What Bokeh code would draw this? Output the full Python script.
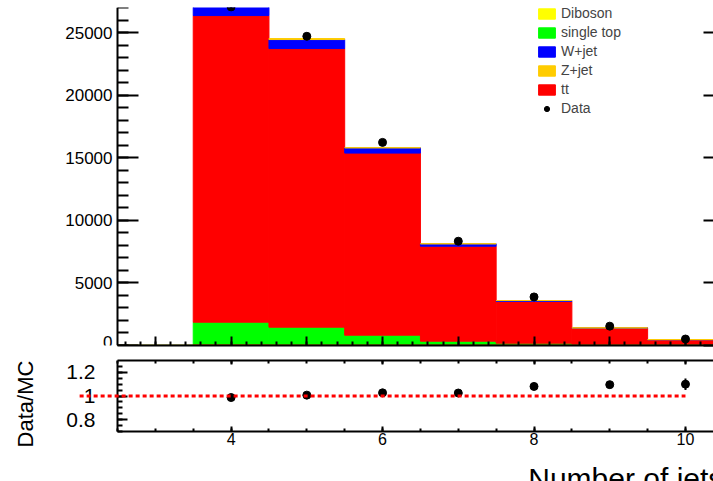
import math

from bokeh.embed import file_html
from bokeh.layouts import column
from bokeh.models import (Arrow, ColumnDataSource, Label, Legend, LegendItem,
                          LinearAxis, Range1d, SingleIntervalTicker)
from bokeh.plotting import figure
from bokeh.resources import INLINE

# Jet multiplicity bins (bin centres) and the expected yields per process
n_jets = [3, 4, 5, 6, 7, 8, 9, 10]
diboson = [0, 30, 25, 20, 15, 10, 6, 3]
single_top = [0, 1830, 1437, 803, 328, 174, 74, 37]
ttbar = [0, 24497, 22258, 14547, 7589, 3330, 1320, 420]
w_jets = [0, 990, 720, 422, 191, 74, 8, 8]
z_jets = [0, 60, 80, 8, 4, 2, 2, 2]

# Observed events
data = [0, 27050, 24700, 16225, 8331, 3880, 1545, 517]

FONT = "Liberation Sans"
X_LO, X_HI, X_END = 2.5, 10.37, 10.5
R_LO, R_HI = 0.7, 1.3

# Both pads span the full width; the axes are pinned at x = X_LO so the
# titles and the unity line can sit to the left of them.
W, PAD_L = 713, 117
RAT_H, RAT_BELOW = 71, 50
PX_PER_UNIT = (W - PAD_L) / (X_HI - X_LO)
PX_PER_RATIO = RAT_H / (R_HI - R_LO)
VIEW_LO = X_LO - PAD_L / PX_PER_UNIT
x_view = Range1d(VIEW_LO, X_HI)

left = [n - 0.5 for n in n_jets]
right = [n + 0.5 for n in n_jets]


def style_axis(ax, tick_in, minor_in, label_size=None, standoff=0):
    ax.major_tick_in = tick_in
    ax.major_tick_out = 0
    ax.minor_tick_in = minor_in
    ax.minor_tick_out = 0
    ax.axis_line_width = 2
    ax.major_tick_line_width = 2
    ax.minor_tick_line_width = 2
    ax.major_label_standoff = standoff
    if label_size is None:
        ax.major_label_text_font_size = "0px"
    else:
        ax.major_label_text_font = FONT
        ax.major_label_text_font_size = label_size
        ax.major_label_text_color = "black"


# ---------------------------------------------------------------- main pad
top = figure(width=W, height=347, x_range=x_view,
             y_range=Range1d(0, 27000), output_backend="svg",
             toolbar_location=None, x_axis_location=None, y_axis_location=None,
             min_border_left=0, min_border_right=0, min_border_top=7,
             min_border_bottom=2)
top.grid.visible = False
top.outline_line_color = None

# stacked histogram, bottom to top
stack = [("Diboson", diboson, "#ffff00"),
         ("single top", single_top, "#00ff00"),
         ("tt", ttbar, "#ff0000"),
         ("W+jet", w_jets, "#0000ff"),
         ("Z+jet", z_jets, "#ffcc00")]
base = [0.0] * len(n_jets)
renderers = {}
for name, vals, col in stack:
    upper = [b + v for b, v in zip(base, vals)]
    src = ColumnDataSource(dict(left=left, right=right, bottom=base, top=upper))
    renderers[name] = top.quad(left="left", right="right", bottom="bottom",
                               top="top", source=src, fill_color=col,
                               line_color=col, line_width=1)
    base = upper
mc_total = base

# diboson outline along the baseline
top.step(x=left + [right[-1]], y=diboson + [diboson[-1]], mode="after",
         line_color="#8c8c00", line_width=2)

pts = [(n, d, m) for n, d, m in zip(n_jets, data, mc_total) if d > 0]
dx = [p[0] for p in pts]
dy = [p[1] for p in pts]
dmc = [p[2] for p in pts]
derr = [math.sqrt(v) for v in dy]
top.segment(x0=dx, x1=dx, y0=[v - e for v, e in zip(dy, derr)],
            y1=[v + e for v, e in zip(dy, derr)], line_color="black", line_width=2)
r_data = top.scatter(x=dx, y=dy, size=8, color="black")

yl = LinearAxis(ticker=SingleIntervalTicker(interval=5000, num_minor_ticks=5),
                fixed_location=X_LO)
style_axis(yl, 21, 11, "17px", 5)
top.add_layout(yl, "left")

yr = LinearAxis(ticker=SingleIntervalTicker(interval=5000, num_minor_ticks=1))
style_axis(yr, 10, 0)
yr.axis_line_color = None
yr.minor_tick_line_color = None
top.add_layout(yr, "right")

xb = LinearAxis(ticker=SingleIntervalTicker(interval=1, num_minor_ticks=5),
                bounds=(X_LO, X_END))
style_axis(xb, 9, 4)
top.add_layout(xb, "below")

legend = Legend(items=[
    LegendItem(label="Diboson", renderers=[renderers["Diboson"]]),
    LegendItem(label="single top", renderers=[renderers["single top"]]),
    LegendItem(label="W+jet", renderers=[renderers["W+jet"]]),
    LegendItem(label="Z+jet", renderers=[renderers["Z+jet"]]),
    LegendItem(label="tt", renderers=[renderers["tt"]]),
    LegendItem(label="Data", renderers=[r_data]),
], location=(536, 229), glyph_width=21, glyph_height=13, label_height=13,
    label_standoff=4, spacing=3, padding=0, margin=0,
    border_line_color=None, background_fill_alpha=0,
    label_text_font=FONT, label_text_font_size="14px")
top.add_layout(legend)

# ---------------------------------------------------------------- ratio pad
rat = figure(width=W, height=134, x_range=x_view,
             y_range=Range1d(R_LO - RAT_BELOW / PX_PER_RATIO, R_HI),
             output_backend="svg", toolbar_location=None,
             x_axis_location=None, y_axis_location=None,
             min_border_left=0, min_border_right=0, min_border_top=13,
             min_border_bottom=0)
rat.grid.visible = False
rat.outline_line_color = None

ratio = [d / m for d, m in zip(dy, dmc)]
rerr = [math.sqrt(d) / m for d, m in zip(dy, dmc)]

unity = Arrow(x_start=2, y_start=1, x_end=10, y_end=1, start=None, end=None,
              line_color="#ff0000", line_width=3, line_dash="4 3")
rat.add_layout(unity)

rat.segment(x0=dx, x1=dx, y0=[r - e for r, e in zip(ratio, rerr)],
            y1=[r + e for r, e in zip(ratio, rerr)], line_color="black", line_width=2)
rat.scatter(x=dx, y=ratio, size=8, color="black")

rl = LinearAxis(ticker=SingleIntervalTicker(interval=0.2, num_minor_ticks=4),
                fixed_location=X_LO, bounds=(R_LO, R_HI))
style_axis(rl, 10, 5, "21px", 22)
rat.add_layout(rl, "left")

rb = LinearAxis(ticker=SingleIntervalTicker(interval=2, num_minor_ticks=4),
                fixed_location=R_LO, bounds=(X_LO, X_END))
style_axis(rb, 5, 3, "16px", 1)
rat.add_layout(rb, "below")

ra = LinearAxis(ticker=SingleIntervalTicker(interval=2, num_minor_ticks=4),
                bounds=(X_LO, X_END))
style_axis(ra, 4, 3)
rat.add_layout(ra, "above")

ytitle = Label(x=X_LO - 92 / PX_PER_UNIT, y=1.0 - 8 / PX_PER_RATIO,
               x_units="data", y_units="data", text="Data/MC", angle=math.pi / 2,
               text_align="center", text_baseline="middle", text_font=FONT,
               text_font_size="22px", text_color="black")
rat.add_layout(ytitle)

xtitle = Label(x=X_END, y=R_LO - 30 / PX_PER_RATIO, x_units="data", y_units="data",
               text="Number of jets", text_align="right",
               text_baseline="top", text_font=FONT,
               text_font_size="30px", text_color="black")
rat.add_layout(xtitle)

layout = column(top, rat, spacing=0)
open("out.html", "w").write(file_html(layout, INLINE))
